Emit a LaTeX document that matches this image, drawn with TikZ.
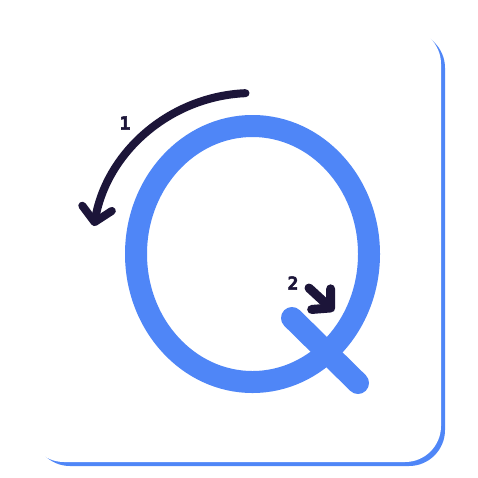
\documentclass[tikz,border=0pt]{standalone}
\usepackage{fontspec}
\newfontfamily\stepfont{DejaVu Sans Mono Bold}[FakeBold=2.5]
\usetikzlibrary{arrows.meta,positioning,calc}
\definecolor{qblue}{RGB}{79, 134, 247}
\definecolor{inkblue}{RGB}{28, 21, 57}

\begin{document}
\begin{tikzpicture}[x=1pt, y=-1pt,
        qstroke/.style={line width=22pt, color=qblue, line cap=round},
        strokearrow/.style={line width=#1, color=inkblue, line cap=round,
            -{Straight Barb[round, length=14pt, width=30pt]}},
        steplabel/.style={font=\stepfont\fontsize{18}{18}\selectfont, text=inkblue, inner sep=0pt}]
        \useasboundingbox (0,0) rectangle (478,477);

        % Card with offset shadow
        \fill[qblue, rounded corners=36pt] (34,32) rectangle (445,466);
        \fill[white, rounded corners=36pt] (28,28) rectangle (441,462);

        % Letter Q
        \coordinate (qcentre) at (252.5,254);
        \draw[qstroke] (qcentre) ellipse[x radius=116.5, y radius=128];
        \coordinate (tailstart) at (292,318);
        \coordinate (tailend) at (358,383);
        \draw[qstroke] (tailstart) -- (tailend);

        % Stroke 1: round the bowl
        \coordinate (onestart) at ($(qcentre)+(267.5:161)$);
        \draw[strokearrow=8pt] (onestart) arc[start angle=267.5, end angle=190, radius=161];
        \node[steplabel] (one) at (125,123) {1};

        % Stroke 2: the tail
        \coordinate (twostart) at (309,288);
        \coordinate (twoend) at (334,311);
        \draw[strokearrow=9pt, -{Straight Barb[round, length=13pt, width=28pt]}] (twostart) -- (twoend);
        \node[steplabel] (two) at (293,283) {2};
    \end{tikzpicture}
\end{document}
